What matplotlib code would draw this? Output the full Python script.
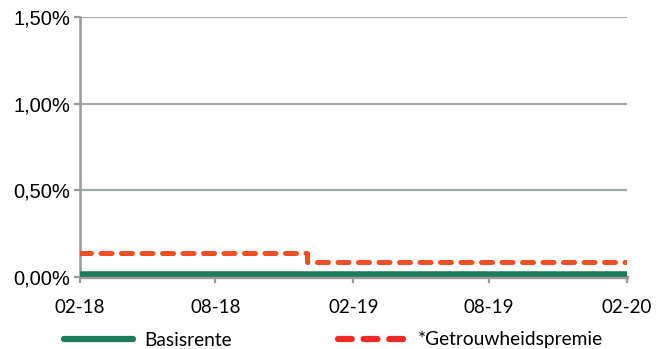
import matplotlib
matplotlib.use("Agg")
import matplotlib.pyplot as plt
import pandas as pd

# rente per periode (in %)
datums = pd.to_datetime(["2018-02-01", "2018-12-01", "2020-02-01"])
basisrente = [0.02, 0.02, 0.02]
premie = [0.14, 0.09, 0.09]

tick_datums = pd.to_datetime(["2018-02-01", "2018-08-01", "2019-02-01", "2019-08-01", "2020-02-01"])
tick_labels = ["02-18", "08-18", "02-19", "08-19", "02-20"]
y_ticks = [0.0, 0.5, 1.0, 1.5]
y_labels = ["0,00%", "0,50%", "1,00%", "1,50%"]

groen = "#1b7b5b"
rood = "#f04e23"
grijs = "#a3aaaa"
streep = (0, (2.2, 1.9))

fig = plt.figure(figsize=(6.70, 3.49), dpi=100)
ax = fig.add_axes([0.119, 0.206, 0.817, 0.745])

ax.step(datums, premie, where="post", color=rood, lw=3.6, ls=streep,
        dash_capstyle="round", solid_capstyle="round", zorder=3)
ax.step(datums, basisrente, where="post", color=groen, lw=4,
        solid_capstyle="round", zorder=4)

ax.set_xlim(tick_datums[0], tick_datums[-1])
ax.set_ylim(0, 1.5)
ax.set_xticks(tick_datums)
ax.set_xticklabels(tick_labels, family="Lato", fontsize=13.5)
ax.set_yticks(y_ticks)
ax.set_yticklabels(y_labels, family="Liberation Sans", fontsize=14.5)

for y in y_ticks[1:]:
    ax.axhline(y, color=grijs, lw=1.6, zorder=1)

for s in ["top", "right"]:
    ax.spines[s].set_visible(False)
ax.spines["left"].set_color("#9a9a9a")
ax.spines["left"].set_linewidth(1.8)
ax.spines["bottom"].set_color("#9a9a9a")
ax.spines["bottom"].set_linewidth(2.4)
ax.spines["bottom"].set_zorder(2)
ax.tick_params(axis="both", colors="#9a9a9a", labelcolor="black", length=4, width=1.6)
ax.tick_params(axis="x", pad=12)
ax.tick_params(axis="y", pad=3)

# legenda onder de grafiek
fig.legend(handles=[
    plt.Line2D([], [], color=groen, lw=4.5, solid_capstyle="round", label="Basisrente"),
    plt.Line2D([], [], color="#ee2a24", lw=4.5, ls=streep, dash_capstyle="round",
               label="*Getrouwheidspremie"),
], loc="center left", bbox_to_anchor=(64 / 670, 1 - 340 / 349), ncol=2, frameon=False,
    prop={"family": "Lato", "size": 13.8}, handlelength=3.6, columnspacing=5.5,
    handletextpad=0.6, borderpad=0, borderaxespad=0)

fig.savefig("out.png", dpi=100)
